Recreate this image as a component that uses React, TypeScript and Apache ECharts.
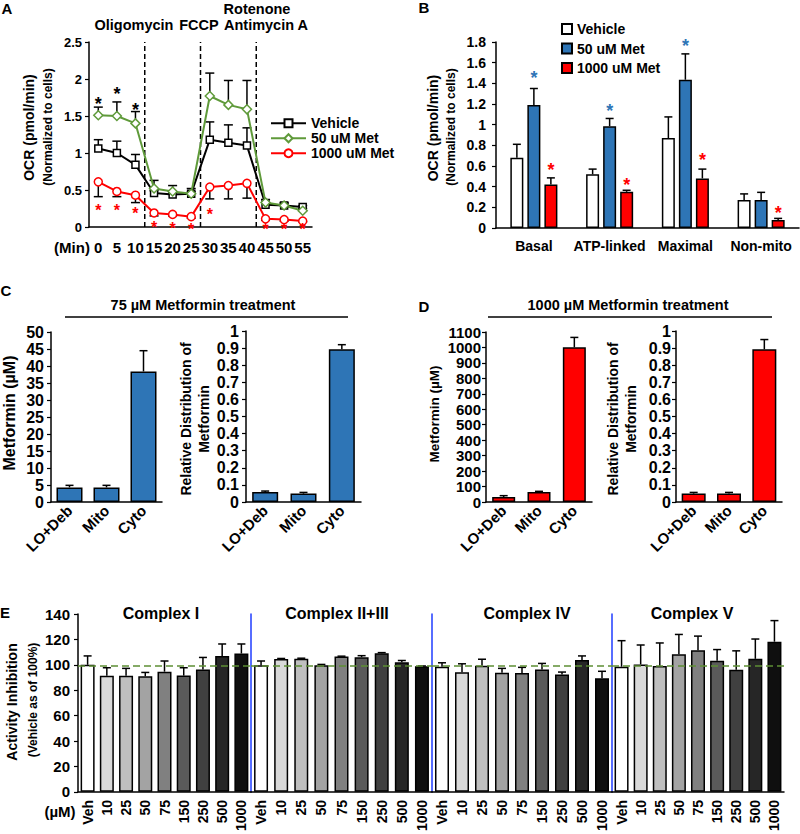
import React, { useEffect, useRef } from "react";
import * as echarts from "echarts";

const FONT = "'Liberation Sans', Arial, Helvetica, sans-serif";
const BLACK = "#000000";
const GREEN = "#5f9a3a";
const RED = "#ff0000";
const BLUE = "#2e75b6";
const SEP_BLUE = "#1f3dff";
const REF_GREEN = "#5e8f35";

// ---------- Panel A: OCR time course ----------
const timeLabels = ["0", "5", "10", "15", "20", "25", "30", "35", "40", "45", "50", "55"];
const vehicleOCR = [1.06, 1.0, 0.84, 0.46, 0.44, 0.45, 1.18, 1.14, 1.1, 0.3, 0.29, 0.27];
const vehicleOCRErr = [0.12, 0.16, 0.14, 0.03, 0.03, 0.03, 0.24, 0.24, 0.24, 0.07, 0.03, 0.02];
const met50OCR = [1.51, 1.5, 1.4, 0.52, 0.48, 0.45, 1.77, 1.65, 1.59, 0.33, 0.29, 0.22];
const met50OCRErr = [0.11, 0.19, 0.16, 0.11, 0.08, 0.07, 0.31, 0.33, 0.39, 0.04, 0.04, 0.03];
const met1000OCR = [0.61, 0.48, 0.43, 0.19, 0.17, 0.14, 0.54, 0.56, 0.59, 0.11, 0.1, 0.08];
const met1000OCRErr = [0.2, 0.07, 0.1, 0.04, 0.02, 0.02, 0.16, 0.18, 0.2, 0.02, 0.02, 0.01];
const injectionAfterIndex = [2, 5, 8];
const starBlackIdx = [0, 1, 2];
const starBlackY = [1.72, 1.86, 1.64];
const starRedIdx = [0, 1, 2, 3, 4, 5, 6, 9, 10, 11];
const starRedY = [0.28, 0.27, 0.24, 0.05, 0.03, 0.02, 0.22, 0.02, 0.02, 0.02];

// ---------- Panel B: OCR parameters ----------
const ocrParams = ["Basal", "ATP-linked", "Maximal", "Non-mito"];
const vehicleParam = [0.68, 0.52, 0.87, 0.27];
const vehicleParamErr = [0.13, 0.05, 0.205, 0.06];
const met50Param = [1.19, 0.985, 1.435, 0.27];
const met50ParamErr = [0.16, 0.075, 0.25, 0.075];
const met1000Param = [0.42, 0.35, 0.48, 0.077];
const met1000ParamErr = [0.065, 0.015, 0.09, 0.016];
const starBlueIdx = [0, 1, 2];
const starBlueY = [1.49, 1.17, 1.8];
const starRedBIdx = [0, 1, 2, 3];
const starRedBY = [0.6, 0.455, 0.7, 0.19];

// ---------- Panels C / D: subcellular metformin ----------
const fractions = ["LO+Deb", "Mito", "Cyto"];
const conc75 = [4.3, 4.3, 38.4];
const conc75Err = [0.6, 0.6, 6.1];
const rel75 = [0.058, 0.049, 0.893];
const rel75Err = [0.006, 0.007, 0.027];
const conc1000 = [32, 64, 1001];
const conc1000Err = [9, 5, 64];
const rel1000 = [0.049, 0.049, 0.893];
const rel1000Err = [0.007, 0.007, 0.057];

// ---------- Panel E: complex activities ----------
const doseLabels = ["Veh", "10", "25", "50", "75", "150", "250", "500", "1000"];
const doseColors = ["#ffffff", "#d9d9d9", "#bfbfbf", "#a3a3a3", "#808080", "#5a5a5a", "#404040", "#262626", "#0f0f0f"];
const complexNames = ["Complex I", "Complex II+III", "Complex IV", "Complex V"];
const complexI = [100, 91.3, 91.3, 91, 94.6, 91.5, 96.4, 107, 108.9];
const complexIErr = [7, 6.4, 5.9, 3, 8.4, 6.2, 9.4, 9.4, 7.5];
const complexII_III = [99.6, 104.5, 104.7, 99.6, 106.5, 106, 109.1, 102.1, 98.8];
const complexII_IIIErr = [3.4, 0.5, 0.5, 0.7, 0.3, 1.2, 0.5, 1.3, 0.3];
const complexIV = [98.5, 94.1, 99.3, 93.8, 93.6, 96.4, 92.3, 103.7, 89.4];
const complexIVErr = [3.1, 6.7, 5.1, 3.4, 4.4, 4.7, 2.0, 3.3, 5.5];
const complexV = [98.5, 100.3, 99, 108.3, 111.5, 103.2, 96.2, 104.7, 118.2];
const complexVErr = [20.5, 15.3, 18.2, 15.6, 11.1, 8.8, 14.8, 15.6, 16.6];
const vehicleReference = 99.5;

const fmt = (v: number) => String(Math.round(v * 1000) / 1000);

function yAx(gridIndex: number, min: number, max: number, interval: number, fontSize: number, margin: number, showLabels = true, lineColor = BLACK) {
  return {
    type: "value",
    gridIndex,
    min,
    max,
    interval,
    splitLine: { show: false },
    axisLine: { show: true, onZero: false, lineStyle: { color: lineColor, width: 1.5 } },
    axisTick: { show: showLabels, length: 4, lineStyle: { color: BLACK, width: 1.2 } },
    axisLabel: {
      show: showLabels,
      showMinLabel: true,
      showMaxLabel: true,
      fontSize,
      fontWeight: "bold",
      color: BLACK,
      fontFamily: FONT,
      margin,
      formatter: fmt,
    },
  };
}

function xAx(gridIndex: number, data: string[], fontSize: number, margin: number, rotate = 0) {
  return {
    type: "category",
    gridIndex,
    data,
    boundaryGap: true,
    axisLine: { show: true, onZero: false, lineStyle: { color: BLACK, width: 1.5 } },
    axisTick: { show: false },
    axisLabel: { interval: 0, fontSize, fontWeight: "bold", color: BLACK, fontFamily: FONT, margin, rotate },
  };
}

function errSeries(ax: number, values: number[], errs: number[], dir: number, offset: number, cap: number, color = BLACK, z = 5) {
  return {
    type: "custom",
    xAxisIndex: ax,
    yAxisIndex: ax,
    silent: true,
    z,
    data: values.map((v, i) => [i, v, v + dir * errs[i]]),
    renderItem: (_p: any, api: any) => {
      const i = api.value(0);
      const a = api.coord([i, api.value(1)]);
      const b = api.coord([i, api.value(2)]);
      const x = a[0] + offset;
      const st = { stroke: color, lineWidth: 1.5 };
      return {
        type: "group",
        children: [
          { type: "line", shape: { x1: x, y1: a[1], x2: x, y2: b[1] }, style: st },
          { type: "line", shape: { x1: x - cap / 2, y1: b[1], x2: x + cap / 2, y2: b[1] }, style: st },
        ],
      };
    },
  };
}

function starSeries(ax: number, idx: number[], ys: number[], color: string, offset = 0, fs = 18) {
  return {
    type: "custom",
    xAxisIndex: ax,
    yAxisIndex: ax,
    silent: true,
    clip: false,
    z: 6,
    data: idx.map((i, k) => [i, ys[k]]),
    renderItem: (_p: any, api: any) => {
      const c = api.coord([api.value(0), api.value(1)]);
      return {
        type: "text",
        x: c[0] + offset,
        y: c[1] + 0.24 * fs,
        style: {
          text: "*",
          fill: color,
          font: `bold ${fs}px ${FONT}`,
          lineHeight: 9,
          align: "center",
          verticalAlign: "middle",
          textAlign: "center",
          textVerticalAlign: "middle",
        },
      };
    },
  };
}

function txt(text: string, x: number, y: number, fs: number, rot = 0) {
  return {
    type: "text",
    x,
    y,
    rotation: rot,
    silent: true,
    style: {
      text,
      fill: BLACK,
      font: `bold ${fs}px ${FONT}`,
      align: "center",
      verticalAlign: "middle",
      textAlign: "center",
      textVerticalAlign: "middle",
    },
  };
}

function hline(x1: number, x2: number, y: number) {
  return { type: "line", silent: true, shape: { x1, y1: y, x2, y2: y }, style: { stroke: BLACK, lineWidth: 1.5 } };
}

function barSeries(name: string, ax: number, data: any[], color: string, barWidth: number, barGap?: string) {
  const s: any = {
    name,
    type: "bar",
    xAxisIndex: ax,
    yAxisIndex: ax,
    data,
    barWidth,
    itemStyle: { color, borderColor: BLACK, borderWidth: 1.5 },
    z: 3,
  };
  if (barGap !== undefined) s.barGap = barGap;
  return s;
}

export default function App() {
  const ref = useRef<HTMLDivElement>(null);

  useEffect(() => {
    document.body.style.margin = "0";
    if (!ref.current) return;
    const chart = echarts.init(ref.current, null, { renderer: "svg" });
    const V90 = Math.PI / 2;

    const eData = [complexI, complexII_III, complexIV, complexV];
    const eErr = [complexIErr, complexII_IIIErr, complexIVErr, complexVErr];
    const eGrids = [
      { left: 78, top: 614, width: 173, height: 178 },
      { left: 251, top: 614, width: 181, height: 178 },
      { left: 432, top: 614, width: 180, height: 178 },
      { left: 612, top: 614, width: 172, height: 178 },
    ];
    const eTitleX = [161, 337, 527, 692];

    const option: any = {
      animation: false,
      textStyle: { fontFamily: FONT, fontWeight: "bold", color: BLACK },
      grid: [
        { left: 89, top: 42, width: 223, height: 185 },
        { left: 496, top: 42, width: 303, height: 186 },
        { left: 51, top: 332, width: 111, height: 170 },
        { left: 246, top: 331, width: 115, height: 171 },
        { left: 486, top: 332, width: 106, height: 170 },
        { left: 676, top: 331, width: 106, height: 171 },
        ...eGrids,
      ],
      xAxis: [
        xAx(0, timeLabels, 15, 13),
        xAx(1, ocrParams, 14, 11),
        xAx(2, fractions, 15, 6, 45),
        xAx(3, fractions, 15, 6, 45),
        xAx(4, fractions, 15, 6, 45),
        xAx(5, fractions, 15, 6, 45),
        ...[0, 1, 2, 3].map((k) => xAx(6 + k, doseLabels, 14, 8, 90)),
      ],
      yAxis: [
        yAx(0, 0, 2.5, 0.5, 13, 7),
        yAx(1, 0, 1.8, 0.2, 14, 10),
        yAx(2, 0, 50, 5, 16, 7),
        yAx(3, 0, 1, 0.1, 16, 7),
        yAx(4, 0, 1100, 100, 15, 5),
        yAx(5, 0, 1, 0.1, 16, 5),
        yAx(6, 0, 140, 20, 15, 8),
        yAx(7, 0, 140, 20, 15, 8, false, SEP_BLUE),
        yAx(8, 0, 140, 20, 15, 8, false, SEP_BLUE),
        yAx(9, 0, 140, 20, 15, 8, false, SEP_BLUE),
      ],
      legend: [
        {
          data: ["Vehicle", "50 uM Met", "1000 uM Met"],
          orient: "vertical",
          left: 265,
          top: 111,
          itemWidth: 35,
          itemHeight: 10,
          itemGap: 0.5,
          selectedMode: false,
          textStyle: { fontSize: 14, fontWeight: "bold", color: BLACK, fontFamily: FONT, lineHeight: 14.5 },
        },
        {
          data: ["B-Vehicle", "B-50 uM Met", "B-1000 uM Met"],
          formatter: (n: string) => n.replace(/^B-/, ""),
          orient: "vertical",
          left: 556,
          top: 17,
          icon: "rect",
          itemWidth: 10,
          itemHeight: 10,
          itemGap: 5.5,
          selectedMode: false,
          textStyle: { fontSize: 14, fontWeight: "bold", color: BLACK, fontFamily: FONT, lineHeight: 14 },
        },
      ],
      series: [
        // Panel A
        {
          type: "custom",
          xAxisIndex: 0,
          yAxisIndex: 0,
          silent: true,
          z: 1,
          data: injectionAfterIndex.map((i) => [i, 0, 2.5]),
          renderItem: (_p: any, api: any) => {
            const i = api.value(0);
            const a = api.coord([i, api.value(1)]);
            const b = api.coord([i + 1, api.value(2)]);
            const x = (a[0] + b[0]) / 2;
            return { type: "line", shape: { x1: x, y1: a[1], x2: x, y2: b[1] }, style: { stroke: BLACK, lineWidth: 1.5, lineDash: [5, 3] } };
          },
        },
        errSeries(0, vehicleOCR, vehicleOCRErr, 1, 0, 9, BLACK, 2),
        errSeries(0, met50OCR, met50OCRErr, 1, 0, 9, BLACK, 2),
        errSeries(0, met1000OCR, met1000OCRErr, -1, 0, 9, BLACK, 2),
        {
          name: "Vehicle",
          type: "line",
          xAxisIndex: 0,
          yAxisIndex: 0,
          data: vehicleOCR,
          symbol: "rect",
          symbolSize: 7,
          lineStyle: { color: BLACK, width: 2 },
          itemStyle: { color: "#ffffff", borderColor: BLACK, borderWidth: 1.5 },
          z: 4,
        },
        {
          name: "50 uM Met",
          type: "line",
          xAxisIndex: 0,
          yAxisIndex: 0,
          data: met50OCR,
          symbol: "diamond",
          symbolSize: 9,
          lineStyle: { color: GREEN, width: 2 },
          itemStyle: { color: "#ffffff", borderColor: GREEN, borderWidth: 1.5 },
          z: 4,
        },
        {
          name: "1000 uM Met",
          type: "line",
          xAxisIndex: 0,
          yAxisIndex: 0,
          data: met1000OCR,
          symbol: "circle",
          symbolSize: 8,
          lineStyle: { color: RED, width: 2 },
          itemStyle: { color: "#ffffff", borderColor: RED, borderWidth: 1.5 },
          z: 4,
        },
        starSeries(0, starBlackIdx, starBlackY, BLACK),
        starSeries(0, starRedIdx, starRedY, RED, 0, 16),

        // Panel B
        barSeries("B-Vehicle", 1, vehicleParam, "#ffffff", 13, "31%"),
        barSeries("B-50 uM Met", 1, met50Param, BLUE, 13, "31%"),
        barSeries("B-1000 uM Met", 1, met1000Param, RED, 13, "31%"),
        errSeries(1, vehicleParam, vehicleParamErr, 1, -17, 8),
        errSeries(1, met50Param, met50ParamErr, 1, 0, 8),
        errSeries(1, met1000Param, met1000ParamErr, 1, 17, 8),
        starSeries(1, starBlueIdx, starBlueY, BLUE, 0),
        starSeries(1, starRedBIdx, starRedBY, RED, 17),

        // Panel C
        barSeries("conc75", 2, conc75, BLUE, 26),
        errSeries(2, conc75, conc75Err, 1, 0, 8),
        barSeries("rel75", 3, rel75, BLUE, 26),
        errSeries(3, rel75, rel75Err, 1, 0, 8),

        // Panel D
        barSeries("conc1000", 4, conc1000, RED, 23),
        errSeries(4, conc1000, conc1000Err, 1, 0, 8),
        barSeries("rel1000", 5, rel1000, RED, 24),
        errSeries(5, rel1000, rel1000Err, 1, 0, 8),

        // Panel E
        ...[0, 1, 2, 3].flatMap((k) => [
          {
            ...barSeries(
              complexNames[k],
              6 + k,
              eData[k].map((v, i) => ({ value: v, itemStyle: { color: doseColors[i] } })),
              "#ffffff",
              14
            ),
            markLine: {
              silent: true,
              symbol: ["none", "none"],
              label: { show: false },
              lineStyle: { color: REF_GREEN, type: [7, 4], width: 1.5 },
              data: [{ yAxis: vehicleReference }],
              z: 6,
            },
          },
          errSeries(6 + k, eData[k], eErr[k], 1, 0, 8),
        ]),
      ],
      graphic: {
        elements: [
          // panel letters
          txt("A", 7, 8, 15),
          txt("B", 424, 7, 15),
          txt("C", 6, 290, 15),
          txt("D", 424, 306, 15),
          txt("E", 5, 612, 15),
          // Panel A annotations
          txt("Oligomycin", 134, 25, 14.5),
          txt("FCCP", 199, 25, 14.5),
          txt("Rotenone", 257, 9, 14.5),
          txt("Antimycin A", 266, 25, 14.5),
          txt("(Min)", 72, 247, 15),
          txt("OCR (pmol/min)", 29, 127.5, 14, V90),
          txt("(Normalized to cells)", 48, 127, 12, V90),
          // Panel B
          txt("OCR (pmol/min)", 433, 128, 14, V90),
          txt("(Normalized to cells)", 451, 127, 12, V90),
          // Panel C
          txt("75 µM Metformin treatment", 203, 305, 14.5),
          hline(65, 348, 317),
          txt("Metformin (µM)", 9, 413, 16, V90),
          txt("Relative Distribution of", 186, 419, 14, V90),
          txt("Metformin", 204, 419, 14, V90),
          // Panel D
          txt("1000 µM Metformin treatment", 628, 305, 14.5),
          hline(488, 772, 317),
          txt("Metformin (µM)", 434, 414, 13.5, V90),
          txt("Relative Distribution of", 612.5, 419, 14, V90),
          txt("Metformin", 631, 419, 14, V90),
          // Panel E
          txt("Activity Inhibition", 12, 702, 14, V90),
          txt("(Vehicle as of 100%)", 33, 700, 12, V90),
          txt("(µM)", 60, 811, 15),
          ...complexNames.map((n, k) => txt(n, eTitleX[k], 613, 16)),
        ],
      },
    };

    chart.setOption(option);
    return () => {
      chart.dispose();
    };
  }, []);

  return <div ref={ref} style={{ width: 800, height: 834 }} />;
}
